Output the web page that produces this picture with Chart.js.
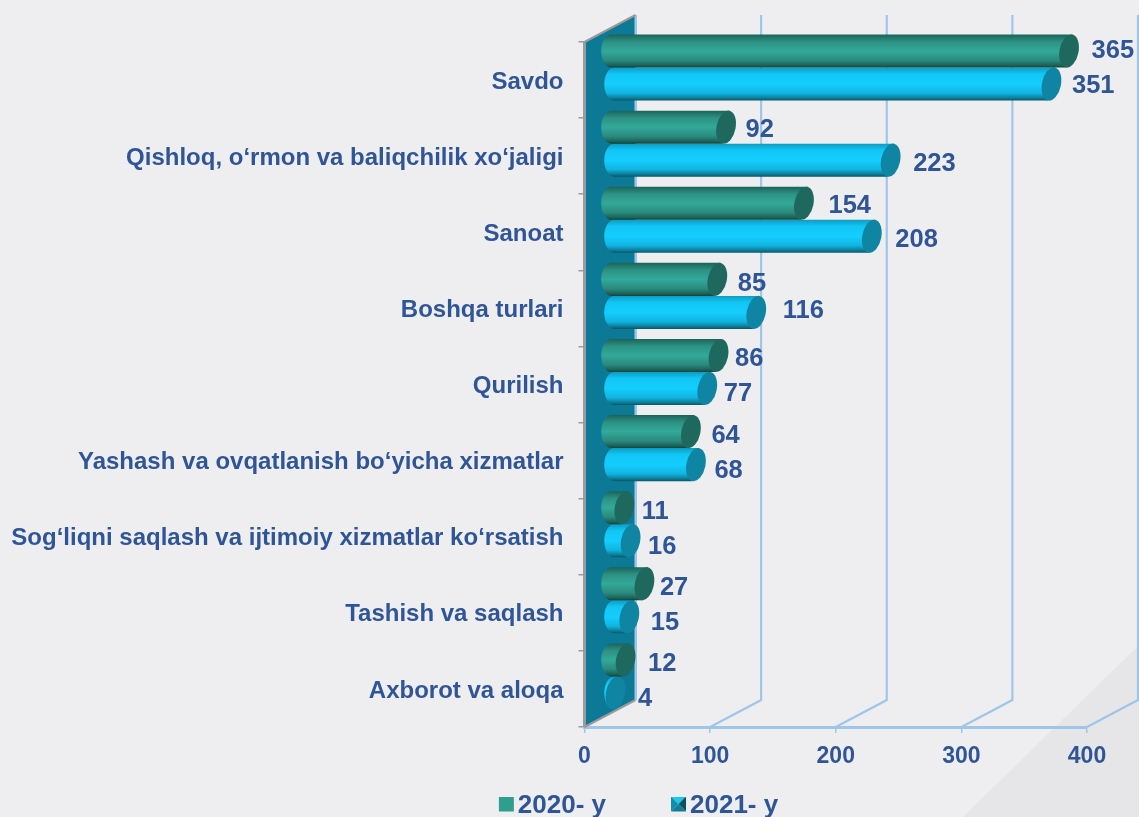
<!DOCTYPE html>
<html><head><meta charset="utf-8">
<script src="https://cdn.jsdelivr.net/npm/chart.js@4"></script>
<style>html,body{margin:0;padding:0;background:#eeeef0;overflow:hidden}canvas{display:block}</style>
</head><body><canvas id="c" width="1139" height="817"></canvas>
<script>
const categories = ["Savdo","Qishloq, o‘rmon va baliqchilik xo‘jaligi","Sanoat","Boshqa turlari","Qurilish","Yashash va ovqatlanish bo‘yicha xizmatlar","Sog‘liqni saqlash va ijtimoiy xizmatlar ko‘rsatish","Tashish va saqlash","Axborot va aloqa"];
const values2020 = [365,92,154,85,86,64,11,27,12];
const values2021 = [351,223,208,116,77,68,16,15,4];
const xTicks = [0,100,200,300,400];
const seriesNames = ["2020- y","2021- y"];

// styling
const FONT = '"Liberation Sans", Arial, sans-serif';
const TEXT = '#2f5597', GRID = '#9fc5e8', GREY = '#9a9a9c', WALL = '#0c7a96';
const DX = 51, DY = -27, BX = 26, BY = -12.5, RX = 9.5, RY = 16.8, TILT = 0.2;
const looks = [
  {inset:0, solid:'#2f9e8f', cap:'#1f685d', stops:[[0,'#1c6359'],[.22,'#2c9284'],[.5,'#32a99a'],[.78,'#2a8a7d'],[.93,'#1c6359'],[1,'#10423b']]},
  {inset:3, solid:'#12cdff', cap:'#0f84a3', stops:[[0,'#0e9cc2'],[.2,'#12c6f5'],[.5,'#14ceff'],[.78,'#11b4e0'],[.92,'#0d7f9c'],[1,'#0a5566']]}
];
// label nudges from the bar end [dx, dy], per series
const nudges = [
  [[12,0],[9,3],[14,3],[10,5],[6,3],[10,4],[7,4],[5,4],[12,4]],
  [[10,2],[12,4],[13,4],[16,-1],[6,5],[8,6],[7,6],[11,6],[12,6]]
];

function swatch(i){
  const c=document.createElement('canvas');c.width=90;c.height=19;
  const g=c.getContext('2d'),l=74,r=89,m=81.5;
  const tri=(pts,col)=>{g.fillStyle=col;g.beginPath();pts.forEach((p,k)=>k?g.lineTo(p[0],p[1]):g.moveTo(p[0],p[1]));g.closePath();g.fill();};
  if(i===0){g.fillStyle=looks[0].solid;g.fillRect(l,0,15,15);}
  else{
    tri([[l,0],[r,0],[m,7.5]],'#19c9f2');
    tri([[l,0],[l,15],[m,7.5]],'#0e8fb0');
    tri([[r,0],[r,15],[m,7.5]],'#0b4f60');
    tri([[l,15],[r,15],[m,7.5]],'#0f7d99');
  }
  return c;
}
const swatches=[swatch(0),swatch(1)];

const scene3d = {
  id:'scene3d',
  beforeDraw(chart){
    const c=chart.ctx;c.save();
    c.fillStyle='#e6e6e8';c.beginPath();c.moveTo(1139,645);c.lineTo(1139,817);c.lineTo(963,817);c.closePath();c.fill();
    c.restore();
  },
  afterLayout(chart){
    chart.legend.left+=63;chart.legend.right+=63;
  },
  beforeDatasetsDraw(chart){
    const c=chart.ctx,x=chart.scales.x,a=chart.chartArea;
    c.save();
    c.strokeStyle=GRID;c.lineWidth=2.2;
    xTicks.forEach(v=>{
      const px=x.getPixelForValue(v);
      if(v>0){c.beginPath();c.moveTo(px,a.bottom);c.lineTo(px+DX,a.bottom+DY);c.lineTo(px+DX,a.top+DY);c.stroke();}
    });
    const x0=x.getPixelForValue(0);
    c.lineWidth=3;c.beginPath();c.moveTo(x0+DX,a.top+DY);c.lineTo(x0+DX,a.bottom+DY);c.stroke();
    c.fillStyle=WALL;c.beginPath();c.moveTo(x0,a.top);c.lineTo(x0+DX-1,a.top+DY);c.lineTo(x0+DX-1,a.bottom+DY);c.lineTo(x0,a.bottom);c.closePath();c.fill();
    c.strokeStyle=GREY;c.lineWidth=2;
    c.beginPath();c.moveTo(x0,a.top);c.lineTo(x0+DX,a.top+DY);c.moveTo(x0,a.bottom);c.lineTo(x0+DX,a.bottom+DY);c.stroke();
    c.lineWidth=3;c.beginPath();c.moveTo(x0,a.top-1);c.lineTo(x0,a.bottom);c.stroke();
    c.restore();
  },
  beforeDatasetDraw(chart){
    chart.ctx.save();chart.ctx.translate(BX,BY);
  },
  afterDatasetDraw(chart,args){
    const c=chart.ctx,meta=args.meta,look=looks[args.index];
    const sk=RY*Math.tan(TILT);
    meta.data.forEach(el=>{
      const top=el.y-el.height/2,bot=el.y+el.height/2,b=el.base+look.inset,e=el.x;
      const g=c.createLinearGradient(0,top,0,bot);
      look.stops.forEach(s=>g.addColorStop(s[0],s[1]));
      c.fillStyle=g;
      c.beginPath();
      c.moveTo(e+sk,top);c.lineTo(e-sk,bot);
      c.lineTo(b,bot);c.ellipse(b,el.y,RX+.5,(bot-top)/2,0,Math.PI/2,Math.PI*1.5);
      c.closePath();c.fill();
      c.fillStyle=look.cap;
      c.beginPath();c.ellipse(e,el.y,RX,RY,TILT,0,Math.PI*2);c.fill();
    });
    c.restore();
  },
  afterDatasetsDraw(chart){
    const c=chart.ctx;
    c.save();c.fillStyle=TEXT;c.font='bold 25.5px '+FONT;c.textAlign='left';c.textBaseline='middle';
    chart.data.datasets.forEach((ds,d)=>{
      chart.getDatasetMeta(d).data.forEach((el,i)=>{
        const n=nudges[d][i];
        c.fillText(String(ds.data[i]),el.x+BX+RX+1+n[0],el.y+BY+n[1]);
      });
    });
    c.restore();
  }
};

new Chart(document.getElementById('c'),{
  type:'bar',
  data:{labels:categories,datasets:[
    {label:seriesNames[0],data:values2020,backgroundColor:'rgba(0,0,0,0)',categoryPercentage:.868,barPercentage:1,clip:false},
    {label:seriesNames[1],data:values2021,backgroundColor:'rgba(0,0,0,0)',categoryPercentage:.868,barPercentage:1,clip:false}
  ]},
  options:{
    indexAxis:'y',responsive:false,animation:false,devicePixelRatio:1,
    layout:{padding:{top:42,right:52,left:0,bottom:-12}},
    scales:{
      x:{min:0,max:400,
        ticks:{stepSize:100,color:TEXT,font:{family:FONT,size:23,weight:'bold'},padding:10,maxRotation:0},
        grid:{drawOnChartArea:false,drawTicks:true,tickLength:6,color:GRID,lineWidth:1.5},
        border:{color:GRID,width:3},
        afterFit(s){s.height=65;}
      },
      y:{
        ticks:{color:TEXT,font:{family:FONT,size:24,weight:'bold'},padding:15,autoSkip:false,labelOffset:2},
        grid:{drawOnChartArea:false,drawTicks:true,tickLength:6,color:GREY,lineWidth:1.5},
        border:{color:GREY,width:2},
        afterFit(s){s.width=584.5;}
      }
    },
    plugins:{
      tooltip:{enabled:false},
      legend:{position:'bottom',
        labels:{color:TEXT,font:{family:FONT,size:26,weight:'bold'},usePointStyle:true,pointStyleWidth:70,boxHeight:15,padding:1,
          generateLabels(chart){return chart.data.datasets.map((d,i)=>({text:d.label,fontColor:TEXT,pointStyle:swatches[i],datasetIndex:i,lineWidth:0,strokeStyle:'transparent',fillStyle:'transparent'}));}
        }
      }
    }
  },
  plugins:[scene3d]
});
</script></body></html>
